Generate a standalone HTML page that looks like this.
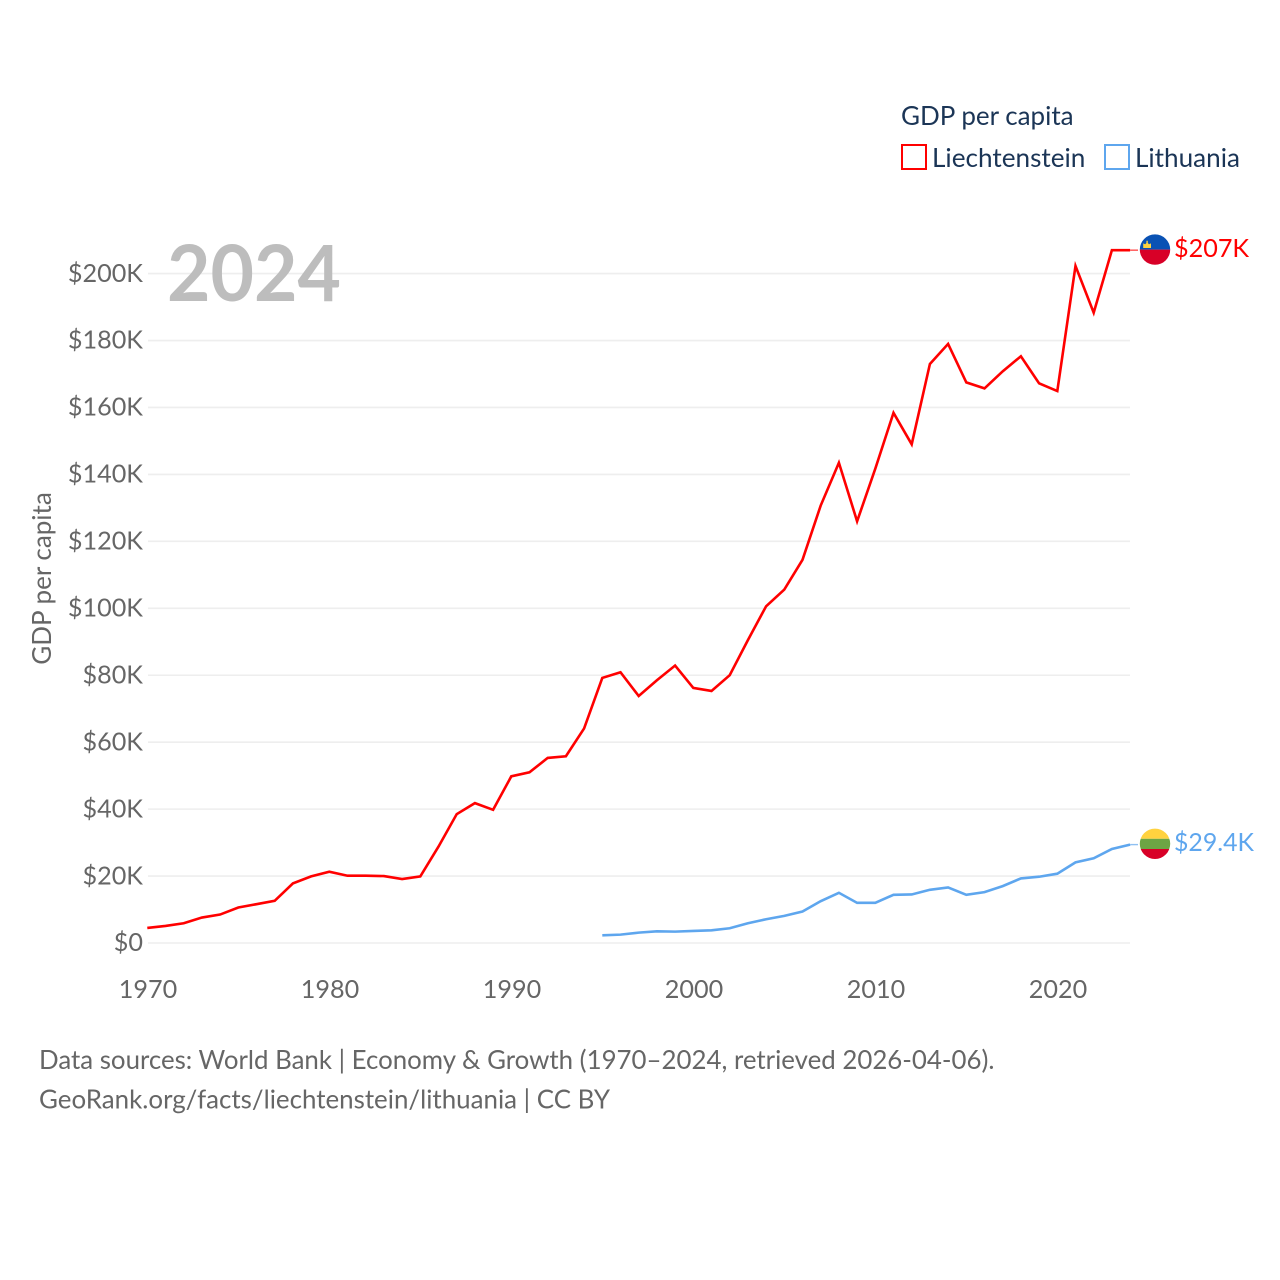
<!DOCTYPE html>
<html lang="en">
<head>
<meta charset="utf-8">
<title>GDP per capita: Liechtenstein and Lithuania</title>
<style>
html,body{margin:0;padding:0;background:#fff;width:1280px;height:1280px;overflow:hidden}
svg{display:block}
text{font-family:"Lato","Carlito","Liberation Sans",sans-serif}
</style>
</head>
<body>
<svg id="chart" xmlns="http://www.w3.org/2000/svg" width="1280" height="1280" viewBox="0 0 1280 1280">
  <defs>
    <clipPath id="flag-clip-li"><circle cx="1155" cy="249.6" r="15.2"/></clipPath>
    <clipPath id="flag-clip-lt"><circle cx="1155" cy="843.8" r="15.2"/></clipPath>
  </defs>
  <g id="grid"></g>
  <g id="yticks"></g>
  <g id="xticks"></g>
  <text x="167" y="301" font-size="78" font-weight="700" fill="#bdbdbd" textLength="174" lengthAdjust="spacingAndGlyphs">2024</text>
  <text transform="translate(51,578.5) rotate(-90)" text-anchor="middle" font-size="26" fill="#666">GDP per capita</text>
  <g id="series"></g>

  <g>
    <text x="901" y="125" font-size="26" fill="#1b3556">GDP per capita</text>
    <g>
      <rect x="902" y="145" width="24" height="24" fill="none" stroke="#ff0000" stroke-width="2"/>
      <text x="932" y="167" font-size="26.15" fill="#1b3556">Liechtenstein</text>
    </g>
    <g>
      <rect x="1105" y="145" width="24" height="24" fill="none" stroke="#5ea6ee" stroke-width="2"/>
      <text x="1135" y="167" font-size="26.15" fill="#1b3556" textLength="105" lengthAdjust="spacingAndGlyphs">Lithuania</text>
    </g>
  </g>

  <g clip-path="url(#flag-clip-li)">
    <rect x="1139" y="234" width="32" height="15.6" fill="#0a52b4"/>
    <rect x="1139" y="249.6" width="32" height="16" fill="#d80027"/>
    <path d="M1143.2 248v-4.6l2 .8 1.2-1.2v-2.2h1.4v2.2l1.2 1.2 2-.8v4.6z" fill="#ffd23f"/>
  </g>
  <g clip-path="url(#flag-clip-lt)">
    <rect x="1139" y="828" width="32" height="10.8" fill="#ffd23f"/>
    <rect x="1139" y="838.8" width="32" height="10.2" fill="#6da544"/>
    <rect x="1139" y="849" width="32" height="11" fill="#d80027"/>
  </g>
  <text id="label-li" x="1174" y="257" font-size="25.2" fill="#ff0000"></text>
  <text id="label-lt" x="1174" y="851" font-size="25.2" fill="#5ea6ee" textLength="80" lengthAdjust="spacingAndGlyphs"></text>

  <text x="39" y="1069" font-size="25.85" fill="#666">Data sources: World Bank | Economy &amp; Growth (1970–2024, retrieved 2026-04-06).</text>
  <text x="39" y="1108.5" font-size="25.85" fill="#666" textLength="571" lengthAdjust="spacingAndGlyphs">GeoRank.org/facts/liechtenstein/lithuania | CC BY</text>
</svg>
<script>
const yTickValues = [0, 20, 40, 60, 80, 100, 120, 140, 160, 180, 200];
const xTickYears = [1970, 1980, 1990, 2000, 2010, 2020];
const liechtensteinStartYear = 1970;
const liechtensteinValues = [4.5, 5.1, 5.9, 7.6, 8.5, 10.6, 11.6, 12.6, 17.8, 19.9, 21.3, 20.1, 20.1, 20.0, 19.1, 19.9, 28.8, 38.5, 41.8, 39.8, 49.8, 51.0, 55.3, 55.8, 64.1, 79.2, 80.9, 73.8, 78.5, 82.9, 76.2, 75.3, 80.0, 90.5, 100.6, 105.6, 114.5, 130.7, 143.5, 126.0, 141.7, 158.4, 149.0, 173.0, 179.0, 167.5, 165.7, 170.8, 175.3, 167.2, 164.9, 202.3, 188.3, 207.0, 207.0];
const lithuaniaStartYear = 1995;
const lithuaniaValues = [2.3, 2.5, 3.1, 3.5, 3.4, 3.6, 3.8, 4.4, 5.9, 7.1, 8.1, 9.4, 12.5, 15.0, 12.0, 12.0, 14.4, 14.5, 15.9, 16.6, 14.4, 15.2, 17.0, 19.3, 19.8, 20.7, 24.1, 25.3, 28.1, 29.4];
const liechtensteinEndLabel = "$207K";
const lithuaniaEndLabel = "$29.4K";

const NS = "http://www.w3.org/2000/svg";
function xScale(year) { return 147.3 + (year - 1970) * 18.2; }
function yScale(v) { return 943 - v * 3.347; }
function make(tag, parent, attrs) {
  const el = document.createElementNS(NS, tag);
  for (const k in attrs) el.setAttribute(k, attrs[k]);
  parent.appendChild(el);
  return el;
}
const gridG = document.getElementById("grid");
const yG = document.getElementById("yticks");
const xG = document.getElementById("xticks");
const seriesG = document.getElementById("series");

yTickValues.forEach(function (v) {
  const line = make("line", gridG, {x1: 148, x2: 1130, y1: yScale(v), y2: yScale(v), stroke: "#eeeeee", "stroke-width": 1.6});
  
  
  const t = make("text", yG, {x: 143, y: yScale(v) + 8.2, "text-anchor": "end", "font-size": 25.2, fill: "#666"});
  
  
  t.textContent = v === 0 ? "$0" : "$" + v + "K";
});
xTickYears.forEach(function (yr) {
  const t = make("text", xG, {x: 148 + (yr - 1970) * 18.2, y: 998, "text-anchor": "middle", "font-size": 25.2, fill: "#666"});
  
  
  t.textContent = String(yr);
});
function pathFor(start, values) {
  return values.map(function (v, i) {
    return (i ? "L" : "M") + xScale(start + i).toFixed(2) + " " + yScale(v).toFixed(2);
  }).join("");
}
const liPath = make("path", seriesG, {d: pathFor(liechtensteinStartYear, liechtensteinValues), fill: "none", stroke: "#ff0000", "stroke-width": 2.6, "stroke-linejoin": "miter"});


const ltPath = make("path", seriesG, {d: pathFor(lithuaniaStartYear, lithuaniaValues), fill: "none", stroke: "#5ea6ee", "stroke-width": 2.6, "stroke-linejoin": "miter"});



const liLast = liechtensteinValues[liechtensteinValues.length - 1];
const ltLast = lithuaniaValues[lithuaniaValues.length - 1];
const liConn = make("line", seriesG, {x1: xScale(2024), x2: 1138, y1: yScale(liLast), y2: yScale(liLast), stroke: "#ff5050", "stroke-width": 1.4});


const ltConn = make("line", seriesG, {x1: xScale(2024), x2: 1138, y1: yScale(ltLast), y2: yScale(ltLast), stroke: "#8fc0f2", "stroke-width": 1.4});



document.getElementById("label-li").textContent = liechtensteinEndLabel;
document.getElementById("label-lt").textContent = lithuaniaEndLabel;
</script>
</body>
</html>
